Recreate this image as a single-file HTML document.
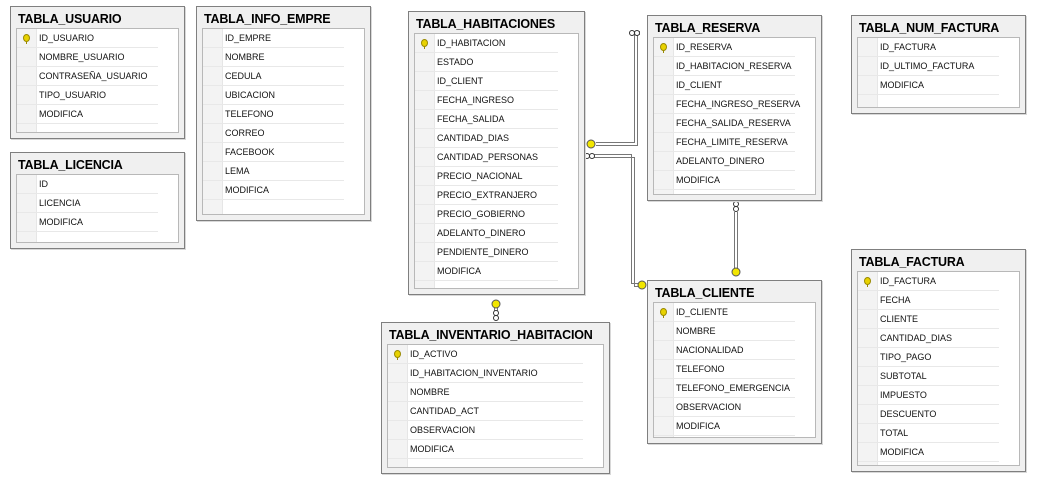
<!DOCTYPE html>
<html><head><meta charset="utf-8"><style>
body{margin:0;width:1040px;height:481px;background:#fff;position:relative;overflow:hidden;font-family:"Segoe UI","Liberation Sans","DejaVu Sans",sans-serif}
.t{position:absolute;border:1px solid #7f7f7f;background:#f0f0f0;box-sizing:border-box;box-shadow:1px 1px 0 #d8d8d8}
.h{position:absolute;left:7px;top:5px;font-weight:bold;font-size:12.5px;letter-spacing:-0.2px;color:#000;white-space:nowrap}
.g{position:absolute;left:5px;right:5px;top:21px;bottom:5px;background:#fff;border:1px solid #b8b8b8;overflow:hidden}
.r{height:19px;box-sizing:border-box;border-bottom:1px solid #e8e8e8;margin-right:20px;padding-left:22px;line-height:18px;font-size:9px;color:#111;white-space:nowrap;background:linear-gradient(to right,#f3f3f3 0,#f3f3f3 19px,#e6e6e6 19px,#e6e6e6 20px,#fff 20px);position:relative}
.k{position:absolute;left:6px;top:5px;width:5px;height:6px;border-radius:50%;background:#e8d200;border:1px solid #9a8a00}
.k::after{content:"";position:absolute;left:2px;top:6px;width:1px;height:3px;background:#9a8a00}
</style></head><body>

<svg width="1040" height="481" style="position:absolute;left:0;top:0">
<g fill="none" stroke="#777" stroke-width="1">
<path d="M596 142.5H634.5V31.5H640"/><path d="M596 145.5H637.5V34.5H640"/>
<path d="M594 154.5H631.5V283.5H640"/><path d="M594 157.5H634.5V286.5H640"/>
<path d="M734.5 212V268"/><path d="M737.5 212V268"/>
<path d="M494.5 300V312"/><path d="M497.5 300V312"/>
</g>
<g fill="#fff" stroke="#333" stroke-width="1">
<circle cx="632" cy="33" r="2.5"/><circle cx="637" cy="33" r="2.5"/>
<circle cx="587" cy="156" r="2.5"/><circle cx="592" cy="156" r="2.5"/>
<circle cx="736" cy="204" r="2.5"/><circle cx="736" cy="209" r="2.5"/>
<circle cx="496" cy="313" r="2.5"/><circle cx="496" cy="318" r="2.5"/>
</g>
<g fill="#f2e600" stroke="#555" stroke-width="1">
<circle cx="591" cy="144" r="4"/><circle cx="642" cy="285" r="4"/>
<circle cx="736" cy="272" r="4"/><circle cx="496" cy="304" r="4"/>
</g>
</svg>

<div class="t" style="left:10px;top:6px;width:175px;height:133px"><div class="h">TABLA_USUARIO</div><div class="g">
<div class="r"><span class="k"></span>ID_USUARIO</div><div class="r">NOMBRE_USUARIO</div><div class="r">CONTRASEÑA_USUARIO</div><div class="r">TIPO_USUARIO</div><div class="r">MODIFICA</div><div class="r"></div></div></div>

<div class="t" style="left:10px;top:152px;width:175px;height:97px"><div class="h">TABLA_LICENCIA</div><div class="g">
<div class="r">ID</div><div class="r">LICENCIA</div><div class="r">MODIFICA</div><div class="r"></div></div></div>

<div class="t" style="left:196px;top:6px;width:175px;height:215px"><div class="h">TABLA_INFO_EMPRE</div><div class="g">
<div class="r">ID_EMPRE</div><div class="r">NOMBRE</div><div class="r">CEDULA</div><div class="r">UBICACION</div><div class="r">TELEFONO</div><div class="r">CORREO</div><div class="r">FACEBOOK</div><div class="r">LEMA</div><div class="r">MODIFICA</div><div class="r"></div></div></div>

<div class="t" style="left:408px;top:11px;width:177px;height:284px"><div class="h">TABLA_HABITACIONES</div><div class="g">
<div class="r"><span class="k"></span>ID_HABITACION</div><div class="r">ESTADO</div><div class="r">ID_CLIENT</div><div class="r">FECHA_INGRESO</div><div class="r">FECHA_SALIDA</div><div class="r">CANTIDAD_DIAS</div><div class="r">CANTIDAD_PERSONAS</div><div class="r">PRECIO_NACIONAL</div><div class="r">PRECIO_EXTRANJERO</div><div class="r">PRECIO_GOBIERNO</div><div class="r">ADELANTO_DINERO</div><div class="r">PENDIENTE_DINERO</div><div class="r">MODIFICA</div><div class="r"></div></div></div>

<div class="t" style="left:647px;top:15px;width:175px;height:186px"><div class="h">TABLA_RESERVA</div><div class="g">
<div class="r"><span class="k"></span>ID_RESERVA</div><div class="r">ID_HABITACION_RESERVA</div><div class="r">ID_CLIENT</div><div class="r">FECHA_INGRESO_RESERVA</div><div class="r">FECHA_SALIDA_RESERVA</div><div class="r">FECHA_LIMITE_RESERVA</div><div class="r">ADELANTO_DINERO</div><div class="r">MODIFICA</div><div class="r"></div></div></div>

<div class="t" style="left:851px;top:15px;width:175px;height:99px"><div class="h">TABLA_NUM_FACTURA</div><div class="g">
<div class="r">ID_FACTURA</div><div class="r">ID_ULTIMO_FACTURA</div><div class="r">MODIFICA</div><div class="r"></div></div></div>

<div class="t" style="left:381px;top:322px;width:229px;height:152px"><div class="h">TABLA_INVENTARIO_HABITACION</div><div class="g">
<div class="r"><span class="k"></span>ID_ACTIVO</div><div class="r">ID_HABITACION_INVENTARIO</div><div class="r">NOMBRE</div><div class="r">CANTIDAD_ACT</div><div class="r">OBSERVACION</div><div class="r">MODIFICA</div><div class="r"></div></div></div>

<div class="t" style="left:647px;top:280px;width:175px;height:164px"><div class="h">TABLA_CLIENTE</div><div class="g">
<div class="r"><span class="k"></span>ID_CLIENTE</div><div class="r">NOMBRE</div><div class="r">NACIONALIDAD</div><div class="r">TELEFONO</div><div class="r">TELEFONO_EMERGENCIA</div><div class="r">OBSERVACION</div><div class="r">MODIFICA</div><div class="r"></div></div></div>

<div class="t" style="left:851px;top:249px;width:175px;height:223px"><div class="h">TABLA_FACTURA</div><div class="g">
<div class="r"><span class="k"></span>ID_FACTURA</div><div class="r">FECHA</div><div class="r">CLIENTE</div><div class="r">CANTIDAD_DIAS</div><div class="r">TIPO_PAGO</div><div class="r">SUBTOTAL</div><div class="r">IMPUESTO</div><div class="r">DESCUENTO</div><div class="r">TOTAL</div><div class="r">MODIFICA</div><div class="r"></div></div></div>

</body></html>
